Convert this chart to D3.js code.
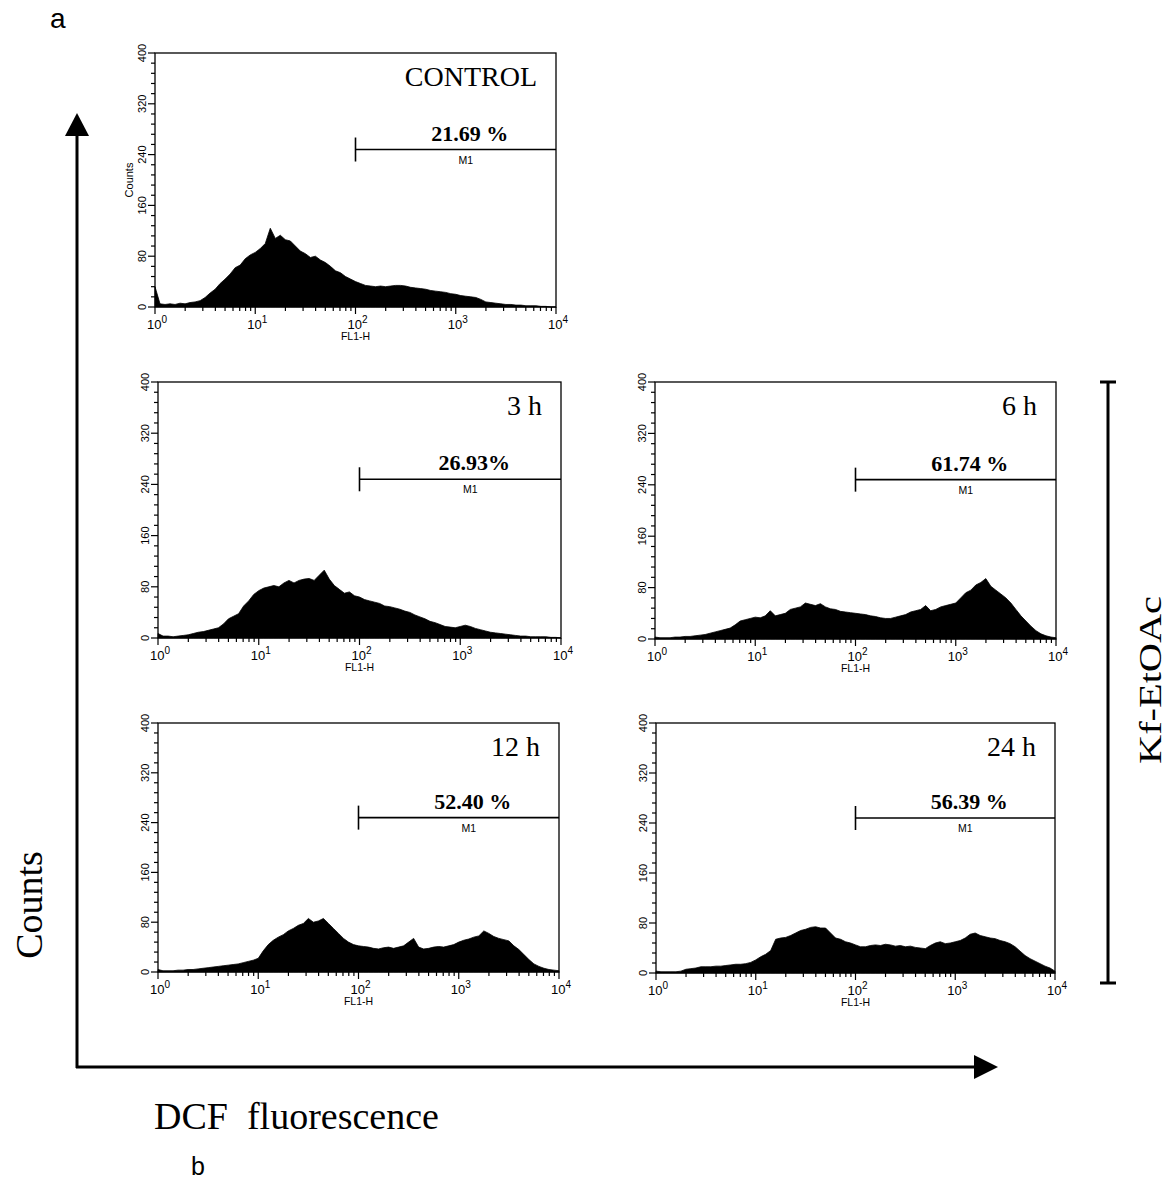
<!DOCTYPE html>
<html>
<head>
<meta charset="utf-8">
<script src="https://cdn.jsdelivr.net/npm/d3@7"></script>
<style>
  html, body { margin: 0; padding: 0; background: #fff; }
  #chart svg { display: block; }
</style>
</head>
<body>
<div id="chart"></div>
<script>
// DCF flow cytometry histograms - control and Kf-EtOAc time points

// channel grid: log10 of FL1-H, step 0.05 decade from 10^0 to 10^4
const logChannels = d3.range(0, 81).map(i => +(i * 0.05).toFixed(2));

// counts (one value per channel)
const controlCounts = [
  32, 5, 4, 5, 4, 6, 5, 7, 8, 10,
  15, 22, 28, 37, 44, 52, 62, 66, 76, 82,
  86, 92, 100, 124, 108, 113, 106, 104, 96, 88,
  84, 78, 80, 74, 70, 64, 57, 54, 48, 44,
  40, 37, 34, 33, 32, 33, 32, 33, 34, 34,
  33, 31, 30, 29, 28, 26, 25, 24, 23, 21,
  20, 18, 17, 16, 15, 12, 8, 7, 6, 5,
  4, 4, 3, 3, 2, 2, 2, 1, 1, 0, 0
];
const h3Counts = [
  7, 3, 3, 2, 3, 4, 5, 7, 9, 10,
  12, 14, 16, 22, 30, 34, 38, 50, 58, 68,
  74, 78, 80, 82, 80, 86, 90, 86, 90, 92,
  93, 90, 98, 106, 92, 82, 76, 70, 72, 66,
  64, 60, 58, 56, 54, 50, 49, 47, 45, 42,
  40, 36, 33, 30, 26, 24, 21, 18, 17, 16,
  18, 20, 18, 15, 13, 11, 9, 8, 7, 6,
  5, 4, 3, 3, 2, 2, 2, 2, 1, 1, 0
];
const h6Counts = [
  3, 2, 2, 2, 3, 3, 4, 4, 5, 6,
  7, 9, 11, 13, 15, 17, 22, 28, 30, 32,
  34, 33, 36, 44, 36, 38, 40, 46, 48, 50,
  56, 54, 52, 55, 50, 47, 46, 43, 42, 41,
  40, 39, 38, 36, 35, 33, 32, 32, 34, 36,
  38, 42, 44, 46, 52, 44, 46, 50, 52, 54,
  56, 64, 72, 76, 84, 88, 94, 82, 76, 70,
  64, 56, 46, 36, 28, 20, 13, 8, 5, 3, 2
];
const h12Counts = [
  4, 2, 2, 2, 3, 3, 4, 4, 5, 6,
  7, 8, 9, 10, 11, 12, 13, 15, 17, 19,
  22, 34, 44, 51, 56, 60, 66, 70, 75, 78,
  86, 80, 82, 86, 78, 70, 62, 54, 48, 44,
  42, 41, 40, 38, 37, 39, 40, 38, 40, 42,
  48, 54, 40, 37, 38, 40, 41, 40, 42, 44,
  48, 51, 53, 56, 58, 66, 62, 57, 54, 52,
  50, 42, 36, 28, 20, 13, 9, 6, 4, 3, 2
];
const h24Counts = [
  3, 2, 2, 2, 2, 3, 6, 7, 8, 10,
  10, 10, 11, 11, 12, 13, 14, 14, 15, 17,
  21, 26, 30, 36, 54, 56, 57, 60, 64, 68,
  70, 73, 74, 72, 72, 64, 56, 54, 50, 48,
  45, 42, 42, 44, 45, 44, 46, 45, 43, 44,
  42, 43, 41, 40, 39, 44, 48, 50, 47, 48,
  50, 52, 56, 62, 64, 60, 58, 56, 55, 52,
  50, 47, 42, 35, 28, 23, 19, 15, 11, 8, 3
];

// panel texts
const panelTitles = ["CONTROL", "3 h", "6 h", "12 h", "24 h"];
const gatePercents = ["21.69 %", "26.93%", "61.74 %", "52.40 %", "56.39 %"];
const panelSeries = [controlCounts, h3Counts, h6Counts, h12Counts, h24Counts];

// axis ticks
const yMajorTicks = [0, 80, 160, 240, 320, 400];
const xDecades = [0, 1, 2, 3, 4];

// M1 gate: from 10^2 to 10^4, drawn at count 248
const gateStart = 100;
const gateEnd = 10000;
const gateLevel = 248;

// panel boxes (plot area in page pixels)
const panelBoxes = [
  { left: 155, top: 53, width: 401, height: 254, counts: true },
  { left: 158, top: 382, width: 403, height: 256 },
  { left: 655, top: 382, width: 401, height: 257 },
  { left: 158, top: 723, width: 401, height: 249 },
  { left: 656, top: 723, width: 399, height: 250 }
];

const serif = "'Liberation Serif', 'Times New Roman', serif";
const sans = "'Liberation Sans', Arial, Helvetica, sans-serif";

const W = 1169, H = 1181;

let svg;

function drawPanel(box, counts, title, percent) {
    const g = svg.append("g")
        .attr("transform", `translate(${box.left},${box.top})`);

    const x = d3.scaleLog().domain([1, 10000]).range([0, box.width]);
    const y = d3.scaleLinear().domain([0, 400]).range([box.height, 0]);

    // histogram
    const pts = logChannels.map((c, i) => ({ c: Math.pow(10, c), v: counts[i] }));
    const area = d3.area()
        .x(d => x(d.c))
        .y0(y(0))
        .y1(d => y(d.v))
        .curve(d3.curveLinear);
    g.append("path")
        .datum(pts)
        .attr("d", area)
        .attr("fill", "#000")
        .attr("stroke", "#000")
        .attr("stroke-width", 0.8)
        .attr("stroke-linejoin", "miter");

    // y axis - major + minor ticks, rotated labels
    const yMinor = d3.range(0, 401, 16).filter(v => v % 80 !== 0);
    const yAxis = g.append("g");
    yAxis.selectAll("line.minor").data(yMinor).join("line")
        .attr("x1", -4).attr("x2", 0)
        .attr("y1", d => y(d)).attr("y2", d => y(d))
        .attr("stroke", "#000").attr("stroke-width", 1.2);
    yAxis.selectAll("line.major").data(yMajorTicks).join("line")
        .attr("x1", -7).attr("x2", 0)
        .attr("y1", d => y(d)).attr("y2", d => y(d))
        .attr("stroke", "#000").attr("stroke-width", 1.2);
    yAxis.selectAll("text").data(yMajorTicks).join("text")
        .attr("transform", d => `translate(-9,${y(d)}) rotate(-90)`)
        .attr("text-anchor", "middle")
        .attr("font-family", sans)
        .attr("font-size", 11)
        .text(d => d);

    if (box.counts) {
        g.append("text")
            .attr("transform", `translate(-22,${y(200)}) rotate(-90)`)
            .attr("text-anchor", "middle")
            .attr("font-family", sans)
            .attr("font-size", 11)
            .text("Counts");
    }

    // x axis - decades + 2..9 minor ticks
    const xMinor = [];
    for (let k = 0; k < 4; k++) {
        for (let m = 2; m <= 9; m++) xMinor.push(m * Math.pow(10, k));
    }
    const xAxis = g.append("g").attr("transform", `translate(0,${box.height})`);
    xAxis.selectAll("line.minor").data(xMinor).join("line")
        .attr("x1", d => x(d)).attr("x2", d => x(d))
        .attr("y1", 0).attr("y2", 4)
        .attr("stroke", "#000").attr("stroke-width", 1.2);
    xAxis.selectAll("line.major").data(xDecades).join("line")
        .attr("x1", d => x(Math.pow(10, d))).attr("x2", d => x(Math.pow(10, d)))
        .attr("y1", 0).attr("y2", 7)
        .attr("stroke", "#000").attr("stroke-width", 1.2);
    const lbl = xAxis.selectAll("text.tick").data(xDecades).join("text")
        .attr("class", "tick")
        .attr("x", d => x(Math.pow(10, d)) + 2)
        .attr("y", 22)
        .attr("text-anchor", "middle")
        .attr("font-family", sans)
        .attr("font-size", 13);
    lbl.append("tspan").text("10");
    lbl.append("tspan").attr("dy", -6).attr("font-size", 10).text(d => d);

    xAxis.append("text")
        .attr("x", x(100))
        .attr("y", 33)
        .attr("text-anchor", "middle")
        .attr("font-family", sans)
        .attr("font-size", 10.5)
        .text("FL1-H");

    // frame
    g.append("rect")
        .attr("x", 0).attr("y", 0)
        .attr("width", box.width).attr("height", box.height)
        .attr("fill", "none")
        .attr("stroke", "#000")
        .attr("stroke-width", 1.3);

    // M1 gate marker
    const gy = y(gateLevel);
    g.append("line")
        .attr("x1", x(gateStart)).attr("x2", x(gateEnd))
        .attr("y1", gy).attr("y2", gy)
        .attr("stroke", "#000").attr("stroke-width", 1.6);
    g.append("line")
        .attr("x1", x(gateStart)).attr("x2", x(gateStart))
        .attr("y1", gy - 12).attr("y2", gy + 12)
        .attr("stroke", "#000").attr("stroke-width", 1.6);
    g.append("text")
        .attr("x", x(Math.pow(10, 3.1)))
        .attr("y", gy + 14)
        .attr("text-anchor", "middle")
        .attr("font-family", sans)
        .attr("font-size", 10.5)
        .text("M1");
    g.append("text")
        .attr("x", x(Math.pow(10, 3.14)))
        .attr("y", gy - 9)
        .attr("text-anchor", "middle")
        .attr("font-family", serif)
        .attr("font-weight", "bold")
        .attr("font-size", 22)
        .text(percent);

    // panel title
    g.append("text")
        .attr("x", box.width - 19)
        .attr("y", 33)
        .attr("text-anchor", "end")
        .attr("font-family", serif)
        .attr("font-size", 28)
        .text(title);
}

function init() {
    svg = d3.select("#chart").append("svg")
        .attr("width", W)
        .attr("height", H)
        .attr("viewBox", `0 0 ${W} ${H}`);

    svg.append("rect").attr("width", W).attr("height", H).attr("fill", "#fff");

    panelBoxes.forEach((b, i) => drawPanel(b, panelSeries[i], panelTitles[i], gatePercents[i]));

    // big outer axes with arrows
    svg.append("path")
        .attr("d", "M77,1068 L77,134")
        .attr("stroke", "#000").attr("stroke-width", 3).attr("fill", "none");
    svg.append("path")
        .attr("d", "M77,113 L65,136 L89,136 Z")
        .attr("fill", "#000");
    svg.append("path")
        .attr("d", "M76,1067 L976,1067")
        .attr("stroke", "#000").attr("stroke-width", 3).attr("fill", "none");
    svg.append("path")
        .attr("d", "M998,1067 L974,1055 L974,1079 Z")
        .attr("fill", "#000");

    // bracket for treated panels
    svg.append("path")
        .attr("d", "M1108,382 L1108,983 M1100,382 L1116,382 M1100,983 L1116,983")
        .attr("stroke", "#000").attr("stroke-width", 3).attr("fill", "none");

    svg.append("text")
        .attr("transform", "translate(1161,680) rotate(-90)")
        .attr("text-anchor", "middle")
        .attr("font-family", serif)
        .attr("font-size", 32)
        .attr("textLength", 168)
        .attr("lengthAdjust", "spacingAndGlyphs")
        .text("Kf-EtOAc");

    svg.append("text")
        .attr("transform", "translate(42,905) rotate(-90)")
        .attr("text-anchor", "middle")
        .attr("font-family", serif)
        .attr("font-size", 38)
        .text("Counts");

    svg.append("text")
        .attr("x", 154)
        .attr("y", 1129)
        .attr("font-family", serif)
        .attr("font-size", 38)
        .style("white-space", "pre")
        .text("DCF  fluorescence");

    // figure letters
    svg.append("text")
        .attr("x", 50).attr("y", 28)
        .attr("font-family", sans)
        .attr("font-size", 28)
        .text("a");
    svg.append("text")
        .attr("x", 191).attr("y", 1175)
        .attr("font-family", sans)
        .attr("font-size", 25)
        .text("b");
}

if (document.readyState === 'loading') {
    document.addEventListener('DOMContentLoaded', init);
} else {
    init();
}
</script>
</body>
</html>
